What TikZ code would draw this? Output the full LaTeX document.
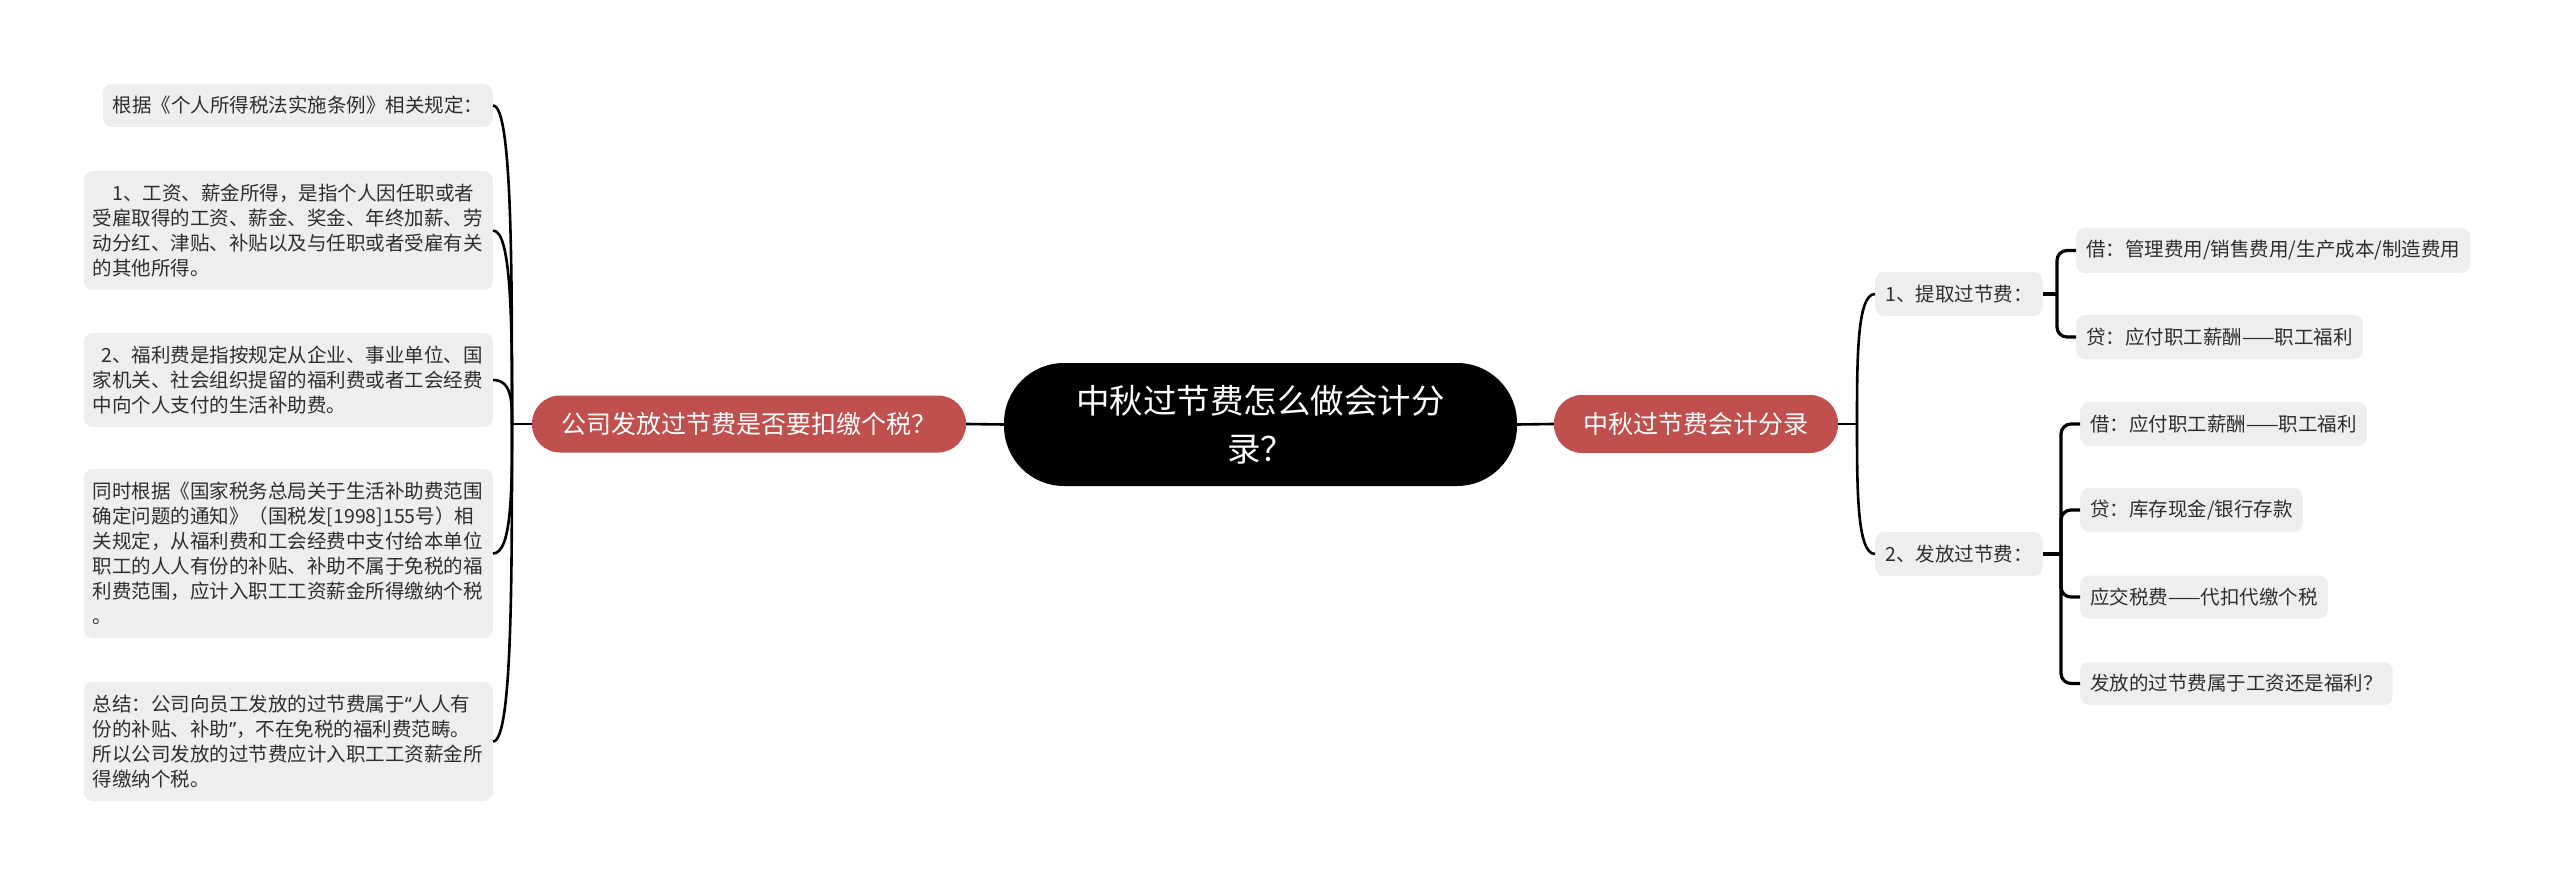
\documentclass[tikz,border=0pt]{standalone}
\usepackage{fontspec}
\setmainfont{Noto Sans CJK SC}
\newfontfamily\qfont{Noto Sans}
\usetikzlibrary{calc}
\definecolor{redn}{HTML}{C0504D}
\definecolor{boxg}{HTML}{EEEEEE}
\definecolor{txtg}{HTML}{2E2E2E}
\tikzset{
  gbox/.style={fill=boxg, rounded corners=9pt, text=txtg, font=\fontsize{19.5pt}{25pt}\selectfont, inner xsep=10pt, inner ysep=0pt, align=left},
  rednode/.style={fill=redn, rounded corners=28pt, text=white, font=\fontsize{25pt}{30pt}\selectfont, inner sep=0pt, align=center},
  rootnode/.style={fill=black, rounded corners=60pt, text=white, font=\fontsize{33.5pt}{48pt}\selectfont, inner sep=0pt, align=center},
  conn/.style={draw=black, line width=2.6pt},
  elbow/.style={draw=black, line width=3.2pt, rounded corners=10pt},
}
\begin{document}
\begin{tikzpicture}[x=1pt, y=-1pt]
\fill[white] (0,0) rectangle (2560,885);
\useasboundingbox (0,0) rectangle (2560,885);

% central and main nodes
\node[rootnode, minimum width=513pt, minimum height=123pt] (root) at (1260.5,424.5) {中秋过节费怎么做会计分\\录？};
\node[rednode, minimum width=434pt, minimum height=57pt] (q) at (749,424) {公司发放过节费是否要扣缴个税？};
\node[rednode, minimum width=284pt, minimum height=58pt] (e) at (1696,424) {中秋过节费会计分录};

% left boxes
\node[gbox, anchor=east, text width=370pt, minimum height=43pt] (l1) at (493,105.5) {根据《个人所得税法实施条例》相关规定：};
\node[gbox, anchor=east, inner xsep=9pt, text width=391pt, minimum height=119pt] (l2) at (493,230.5) {\hspace*{1em}1、工资、薪金所得，是指个人因任职或者\\受雇取得的工资、薪金、奖金、年终加薪、劳\\动分红、津贴、补贴以及与任职或者受雇有关\\的其他所得。};
\node[gbox, anchor=east, inner xsep=9pt, text width=391pt, minimum height=94pt] (l3) at (493,380) {\hspace*{0.45em}2、福利费是指按规定从企业、事业单位、国\\家机关、社会组织提留的福利费或者工会经费\\中向个人支付的生活补助费。};
\node[gbox, anchor=east, inner xsep=9pt, text width=391pt, minimum height=169pt] (l4) at (493,553.5) {同时根据《国家税务总局关于生活补助费范围\\确定问题的通知》（国税发[1998]155号）相\\关规定，从福利费和工会经费中支付给本单位\\职工的人人有份的补贴、补助不属于免税的福\\利费范围，应计入职工工资薪金所得缴纳个税\\。};
\node[gbox, anchor=east, inner xsep=9pt, text width=391pt, minimum height=119pt] (l5) at (493,741.5) {总结：公司向员工发放的过节费属于{\qfont “}人人有\\份的补贴、补助{\qfont ”}，不在免税的福利费范畴。\\所以公司发放的过节费应计入职工工资薪金所\\得缴纳个税。};

% right boxes
\node[gbox, anchor=west, minimum height=44pt] (r1) at (1875,294) {1、提取过节费：};
\node[gbox, anchor=west, minimum height=44pt] (r2) at (1875,554) {2、发放过节费：};
\node[gbox, anchor=west, minimum height=45pt] (a1) at (2076,250.5) {借：管理费用/销售费用/生产成本/制造费用};
\node[gbox, anchor=west, minimum height=44pt] (a2) at (2076,337) {贷：应付职工薪酬——职工福利};
\node[gbox, anchor=west, minimum height=44pt] (b1) at (2080,424) {借：应付职工薪酬——职工福利};
\node[gbox, anchor=west, minimum height=44pt] (b2) at (2080,510) {贷：库存现金/银行存款};
\node[gbox, anchor=west, minimum height=43pt] (b3) at (2080,597) {应交税费——代扣代缴个税};
\node[gbox, anchor=west, minimum height=43pt] (b4) at (2080,683.5) {发放的过节费属于工资还是福利？};

% connectors
\coordinate (lsp) at (512,424);
\coordinate (rsp) at (1857,424);
\draw[conn] (root.west) -- (q.east);
\draw[conn] (root.east) -- (e.west);
\draw[conn] (q.west) -- (lsp);
\draw[conn] (e.east) -- (rsp);
\foreach \n in {l1,l2,l3,l4,l5}{
  \coordinate (k\n) at (lsp |- \n.east);
  \draw[conn] (lsp) .. controls ($(lsp)!0.5!(k\n)$) and (k\n) .. (\n.east);
}
\foreach \n in {r1,r2}{
  \coordinate (k\n) at (rsp |- \n.west);
  \draw[conn] (rsp) .. controls ($(rsp)!0.5!(k\n)$) and (k\n) .. (\n.west);
}
\coordinate (g1) at (2057,294);
\coordinate (g2) at (2061,554);
\draw[elbow] (r1.east) -- (g1);
\draw[elbow] (r2.east) -- (g2);
\draw[elbow] (g1) |- (a1.west);
\draw[elbow] (g1) |- (a2.west);
\draw[elbow] (g2) |- (b1.west);
\draw[elbow] (g2) |- (b2.west);
\draw[elbow] (g2) |- (b3.west);
\draw[elbow] (g2) |- (b4.west);
\end{tikzpicture}
\end{document}
